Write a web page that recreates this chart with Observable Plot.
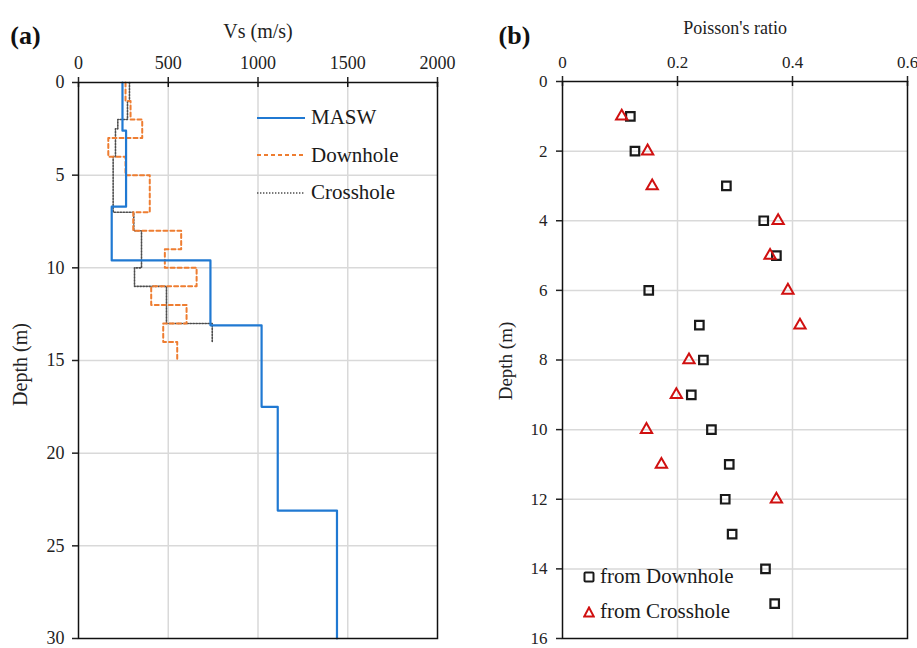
<!DOCTYPE html>
<html>
<head>
<meta charset="utf-8">
<script src="https://cdn.jsdelivr.net/npm/d3@7"></script>
<script src="https://cdn.jsdelivr.net/npm/@observablehq/plot@0.6"></script>
<style>
  html, body { margin: 0; padding: 0; background: #fff; }
  #wrap { position: relative; width: 917px; height: 648px; font-family: "Liberation Serif", "Times New Roman", serif; color: #222; }
  #pa { position: absolute; left: 0; top: 0; }
  #pb { position: absolute; left: 460px; top: 0; }
  #wrap svg text { font-family: "Liberation Serif", "Times New Roman", serif; }
  .leg { position: absolute; display: flex; align-items: center; font-size: 21px; line-height: 1; white-space: nowrap; color: #1a1a1a; }
  .leg svg { display: block; margin-right: 5px; }
</style>
</head>
<body>
<div id="wrap">
  <div id="pa"></div>
  <div id="pb"></div>
</div>
<script>
// ---------- Data: panel (a) Vs profiles ----------
const vsTicks = [0, 500, 1000, 1500, 2000];
const depthTicksA = [0, 5, 10, 15, 20, 25, 30];

const maswTop    = [0, 2.6, 6.7, 9.6, 13.1, 17.5, 23.1];
const maswBottom = [2.6, 6.7, 9.6, 13.1, 17.5, 23.1, 30];
const maswVs     = [245, 265, 185, 735, 1020, 1110, 1440];

const downTop    = [0, 1, 2, 3, 4, 5, 7, 8, 9, 10, 11, 12, 13, 14];
const downBottom = [1, 2, 3, 4, 5, 7, 8, 9, 10, 11, 12, 13, 14, 15];
const downVs     = [262, 290, 355, 166, 262, 397, 305, 572, 481, 658, 405, 602, 472, 550];

const crossTop    = [0, 1, 2, 2.5, 4, 7, 8, 10, 11, 13];
const crossBottom = [1, 2, 2.5, 4, 7, 8, 10, 11, 13, 14];
const crossVs     = [284, 273, 219, 206, 193, 308, 351, 312, 490, 745];

// ---------- Data: panel (b) Poisson's ratio ----------
const prTicks = [0, 0.2, 0.4, 0.6];
const depthTicksB = [0, 2, 4, 6, 8, 10, 12, 14, 16];

const downholeDepth = [1, 2, 3, 4, 5, 6, 7, 8, 9, 10, 11, 12, 13, 14, 15];
const downholePR    = [0.118, 0.126, 0.285, 0.350, 0.372, 0.150, 0.238, 0.245, 0.224, 0.259, 0.290, 0.283, 0.295, 0.353, 0.369];

const crossholeDepth = [1, 2, 3, 4, 5, 6, 7, 8, 9, 10, 11, 12];
const crossholePR    = [0.103, 0.148, 0.156, 0.375, 0.361, 0.392, 0.413, 0.220, 0.198, 0.146, 0.172, 0.372];

// ---------- Styles ----------
const BLUE = "#2079d2", ORANGE = "#ee7d31", GRAY = "#4d4d4d", RED = "#d01010", GRID = "#d9d9d9";
const FONT = "Liberation Serif, Times New Roman, serif";

function stepProfile(tops, bottoms, vs) {
  const pts = [];
  tops.forEach((t, i) => {
    pts.push({vs: vs[i], depth: t});
    pts.push({vs: vs[i], depth: bottoms[i]});
  });
  return pts;
}

const masw = stepProfile(maswTop, maswBottom, maswVs);
const down = stepProfile(downTop, downBottom, downVs);
const cross = stepProfile(crossTop, crossBottom, crossVs);

// ---------- Panel (a) ----------
const A = {w: 460, h: 648, ml: 78, mr: 23, mt: 82, mb: 10};
const frameHA = A.h - A.mt - A.mb;

const plotA = Plot.plot({
  width: A.w, height: A.h,
  marginLeft: A.ml, marginRight: A.mr, marginTop: A.mt, marginBottom: A.mb,
  style: {fontFamily: FONT, fontSize: "18px", color: "#222", background: "transparent", overflow: "visible"},
  x: {domain: [0, 2000]},
  y: {domain: [0, 30], reverse: true},
  marks: [
    Plot.gridX(vsTicks.slice(1, -1), {stroke: GRID, strokeOpacity: 1, strokeWidth: 1.5}),
    Plot.gridY(depthTicksA.slice(1, -1), {stroke: GRID, strokeOpacity: 1, strokeWidth: 1.5}),
    Plot.line(cross, {x: "vs", y: "depth", stroke: GRAY, strokeWidth: 1.6, strokeDasharray: "1.4,1.6"}),
    Plot.line(down, {x: "vs", y: "depth", stroke: ORANGE, strokeWidth: 2, strokeDasharray: "4,3"}),
    Plot.line(masw, {x: "vs", y: "depth", stroke: BLUE, strokeWidth: 2.2}),
    Plot.frame({stroke: "#111", strokeWidth: 1.5}),
    Plot.axisX({anchor: "top", ticks: vsTicks, tickSize: 6, tickPadding: 8, label: null, strokeWidth: 1.5, fontSize: 18, fontFamily: FONT, fill: "#222", tickFormat: d3.format("d")}),
    Plot.tickX(vsTicks, {x: d => d, insetBottom: frameHA - 5, stroke: "#111", strokeWidth: 1.5}),
    Plot.axisY({anchor: "left", ticks: depthTicksA, tickSize: 6, tickPadding: 8, label: null, strokeWidth: 1.5, fontSize: 18, fontFamily: FONT, fill: "#222", tickFormat: d3.format("d")}),
    Plot.text(["Vs (m/s)"], {frameAnchor: "top", dy: -59, fontSize: 20, fontFamily: FONT, fill: "#222"}),
    Plot.text(["(a)"], {frameAnchor: "top-left", dx: -53, dy: -57, textAnchor: "middle", fontSize: 26, fontWeight: "bold", fontFamily: FONT, fill: "#111"}),
    Plot.text(["Depth (m)"], {frameAnchor: "left", dx: -58, dy: 4, rotate: -90, textAnchor: "middle", fontSize: 20, fontFamily: FONT, fill: "#222"})
  ]
});
document.getElementById("pa").appendChild(plotA);

// ---------- Panel (b) ----------
const B = {w: 457, h: 648, ml: 102, mr: 10, mt: 81, mb: 10};
const frameHB = B.h - B.mt - B.mb;

const dh = downholeDepth.map((d, i) => ({depth: d, pr: downholePR[i]}));
const ch = crossholeDepth.map((d, i) => ({depth: d, pr: crossholePR[i]}));

const plotB = Plot.plot({
  width: B.w, height: B.h,
  marginLeft: B.ml, marginRight: B.mr, marginTop: B.mt, marginBottom: B.mb,
  style: {fontFamily: FONT, fontSize: "17px", color: "#222", background: "transparent", overflow: "visible"},
  x: {domain: [0, 0.6]},
  y: {domain: [0, 16], reverse: true},
  marks: [
    Plot.gridX(prTicks.slice(1, -1), {stroke: GRID, strokeOpacity: 1, strokeWidth: 1.5}),
    Plot.gridY(depthTicksB.slice(1, -1), {stroke: GRID, strokeOpacity: 1, strokeWidth: 1.5}),
    Plot.dot(dh, {x: "pr", y: "depth", symbol: "square", r: 4.8, stroke: "#1a1a1a", strokeWidth: 2.2, fill: "none"}),
    Plot.dot(ch, {x: "pr", y: "depth", symbol: "triangle", r: 4.2, stroke: RED, strokeWidth: 2, fill: "none"}),
    Plot.frame({stroke: "#111", strokeWidth: 1.5}),
    Plot.axisX({anchor: "top", ticks: prTicks, tickSize: 6, tickPadding: 8, label: null, strokeWidth: 1.5, fontSize: 17, fontFamily: FONT, fill: "#222", tickFormat: d => d === 0 ? "0" : d3.format(".1f")(d)}),
    Plot.tickX(prTicks, {x: d => d, insetBottom: frameHB - 5, stroke: "#111", strokeWidth: 1.5}),
    Plot.axisY({anchor: "left", ticks: depthTicksB, tickSize: 6, tickPadding: 9, label: null, strokeWidth: 1.5, fontSize: 17, fontFamily: FONT, fill: "#222", tickFormat: d3.format("d")}),
    Plot.text(["Poisson's ratio"], {frameAnchor: "top", dy: -60, fontSize: 18, fontFamily: FONT, fill: "#222"}),
    Plot.text(["(b)"], {frameAnchor: "top-left", dx: -48, dy: -56, textAnchor: "middle", fontSize: 26, fontWeight: "bold", fontFamily: FONT, fill: "#111"}),
    Plot.text(["Depth (m)"], {frameAnchor: "left", dx: -57, dy: 1, rotate: -90, textAnchor: "middle", fontSize: 19, fontFamily: FONT, fill: "#222"})
  ]
});
document.getElementById("pb").appendChild(plotB);

// ---------- Legends (HTML overlays) ----------
const wrap = document.getElementById("wrap");
function addLegend(left, top, swatch, label) {
  const d = document.createElement("div");
  d.className = "leg";
  d.style.left = left + "px";
  d.style.top = top + "px";
  d.innerHTML = swatch + "<span>" + label + "</span>";
  wrap.appendChild(d);
}
const lineSw = (color, dash, w) => `<svg width="50" height="10"><line x1="1" y1="5" x2="49" y2="5" stroke="${color}" stroke-width="${w}" ${dash ? `stroke-dasharray="${dash}"` : ""}/></svg>`;
const legendA = [
  {label: "MASW", color: BLUE, dash: null, w: 2.2},
  {label: "Downhole", color: ORANGE, dash: "4,3", w: 2},
  {label: "Crosshole", color: GRAY, dash: "1.4,1.6", w: 1.6}
];
legendA.forEach((l, i) => addLegend(256, 107 + i * 37.5, lineSw(l.color, l.dash, l.w), l.label));

const sqSw = `<svg width="12" height="12"><rect x="1.5" y="1.5" width="9" height="9" rx="1" fill="none" stroke="#1a1a1a" stroke-width="2"/></svg>`;
const triSw = `<svg width="12" height="12"><path d="M6,1.5 L10.8,10.5 L1.2,10.5 Z" fill="none" stroke="${RED}" stroke-width="2" stroke-linejoin="miter"/></svg>`;
addLegend(583, 566, sqSw, "from Downhole");
addLegend(583, 601, triSw, "from Crosshole");
</script>
</body>
</html>
